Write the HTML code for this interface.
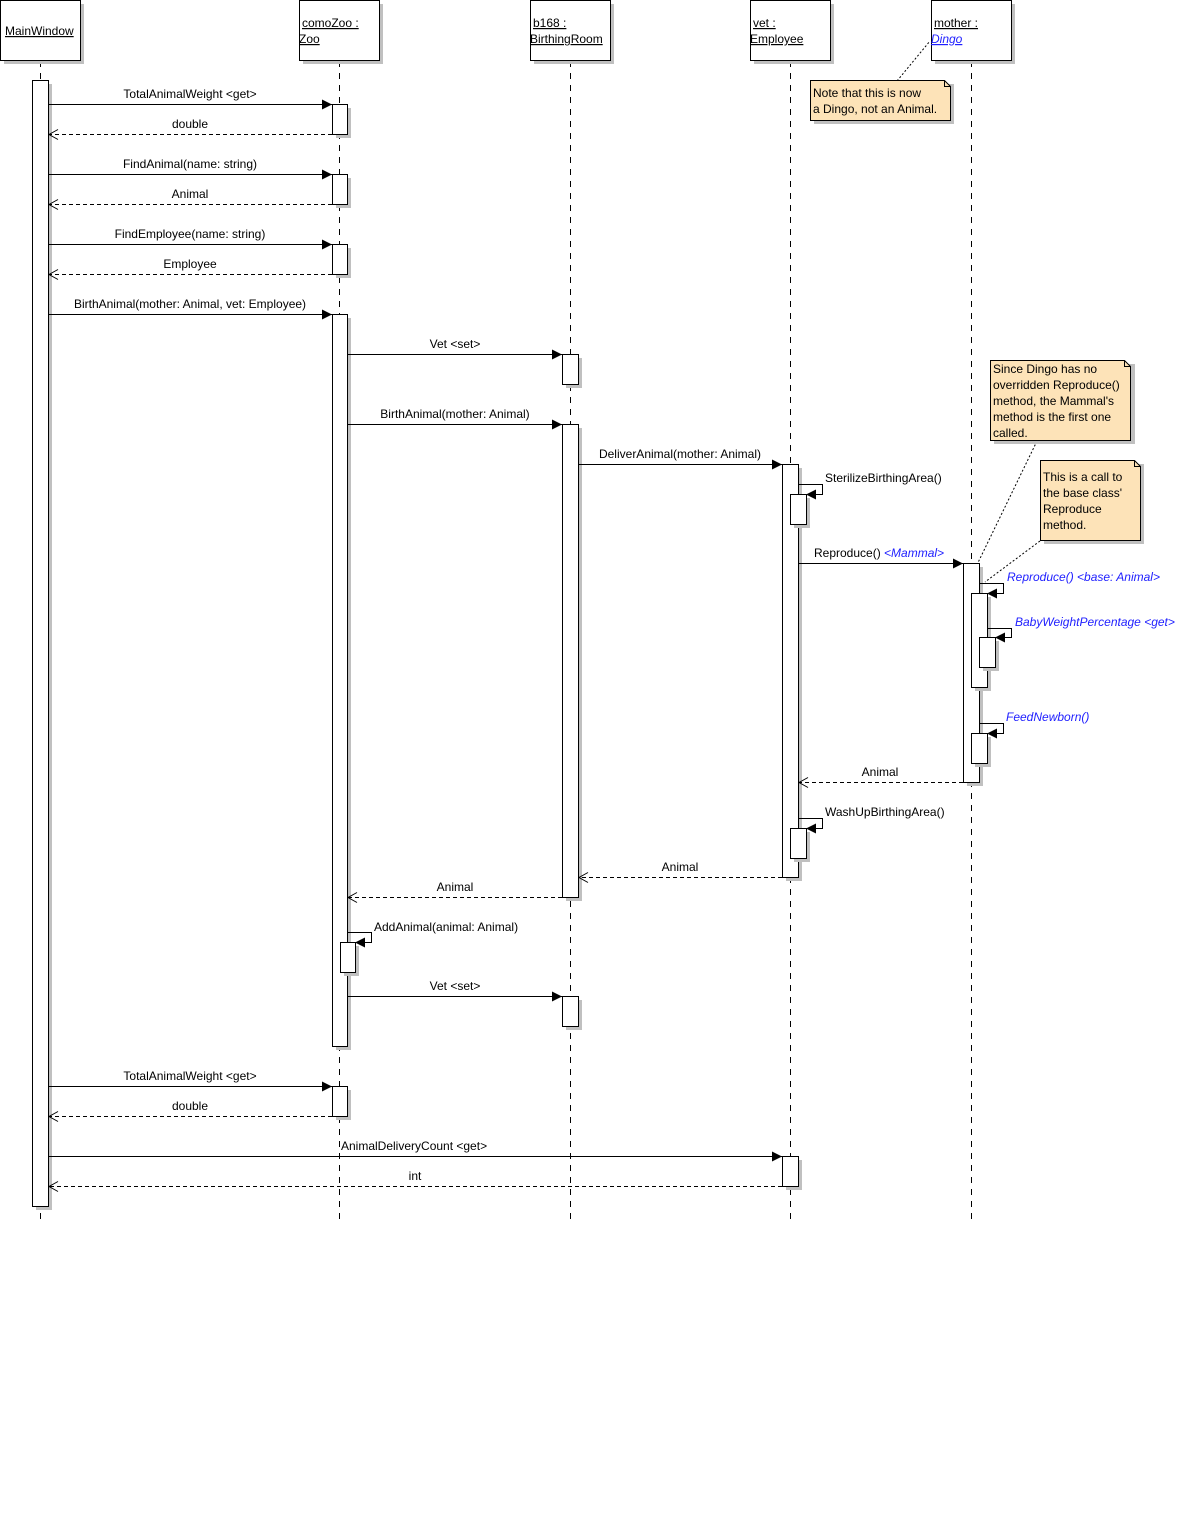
<!DOCTYPE html>
<html><head><meta charset="utf-8"><style>
html,body{margin:0;padding:0;background:#fff;}
svg{display:block;font-family:"Liberation Sans",sans-serif;font-size:12px;}
.sh{fill:#c0c0c0;stroke:none}
.b{fill:#fff;stroke:#000;stroke-width:1}
.n{fill:#fde3b8;stroke:#000;stroke-width:1}
.ll{stroke:#000;stroke-dasharray:6,6;fill:none}
.m{stroke:#000;fill:none}
.r{stroke:#000;fill:none;stroke-dasharray:4,3}
.d{stroke:#000;fill:none;stroke-dasharray:2,2}
.bl{fill:#2020ff;font-style:italic}
</style></head><body>
<svg width="1183" height="1524" viewBox="0 0 1183 1524" xmlns="http://www.w3.org/2000/svg">
<rect width="1183" height="1524" fill="#fff"/>
<!-- lifelines -->
<line class="ll" x1="40.5" y1="61" x2="40.5" y2="1225"/>
<line class="ll" x1="339.5" y1="61" x2="339.5" y2="1225"/>
<line class="ll" x1="570.5" y1="61" x2="570.5" y2="1225"/>
<line class="ll" x1="790.5" y1="61" x2="790.5" y2="1225"/>
<line class="ll" x1="971.5" y1="61" x2="971.5" y2="1225"/>
<!-- heads -->
<g>
<rect class="sh" x="4" y="4" width="80" height="60"/><rect class="b" x="0.5" y="0.5" width="80" height="60"/>
<text x="5" y="35" text-decoration="underline">MainWindow</text>
<rect class="sh" x="303" y="4" width="80" height="60"/><rect class="b" x="299.5" y="0.5" width="80" height="60"/>
<text x="302" y="27" text-decoration="underline">comoZoo :</text><text x="299" y="43" text-decoration="underline">Zoo</text>
<rect class="sh" x="534" y="4" width="80" height="60"/><rect class="b" x="530.5" y="0.5" width="80" height="60"/>
<text x="533" y="27" text-decoration="underline">b168 :</text><text x="530" y="43" text-decoration="underline">BirthingRoom</text>
<rect class="sh" x="754" y="4" width="80" height="60"/><rect class="b" x="750.5" y="0.5" width="80" height="60"/>
<text x="753" y="27" text-decoration="underline">vet :</text><text x="750" y="43" text-decoration="underline">Employee</text>
<rect class="sh" x="935" y="4" width="80" height="60"/><rect class="b" x="931.5" y="0.5" width="80" height="60"/>
<text x="934" y="27" text-decoration="underline">mother :</text><text x="931" y="43" text-decoration="underline" fill="#2020ff" font-style="italic">Dingo</text>
</g>
<!-- notes -->
<line class="d" x1="897" y1="81" x2="930" y2="41"/>
<rect class="sh" x="814" y="84" width="140" height="40"/>
<path class="n" d="M810.5 80.5 H944.5 L950.5 86.5 V120.5 H810.5 Z"/><path class="m" d="M944.5 80.5 V86.5 H950.5"/>
<text x="813" y="97">Note that this is now</text><text x="813" y="113">a Dingo, not an Animal.</text>
<line class="d" x1="1037" y1="441" x2="972" y2="575"/>
<rect class="sh" x="994" y="364" width="141" height="80"/>
<path class="n" d="M990.5 360.5 H1124.5 L1130.5 366.5 V440.5 H990.5 Z"/><path class="m" d="M1124.5 360.5 V366.5 H1130.5"/>
<text x="993" y="373">Since Dingo has no</text><text x="993" y="389">overridden Reproduce()</text><text x="993" y="405">method, the Mammal's</text><text x="993" y="421">method is the first one</text><text x="993" y="437">called.</text>
<line class="d" x1="1040" y1="541" x2="985" y2="582"/>
<rect class="sh" x="1044" y="464" width="100" height="80"/>
<path class="n" d="M1040.5 460.5 H1134.5 L1140.5 466.5 V540.5 H1040.5 Z"/><path class="m" d="M1134.5 460.5 V466.5 H1140.5"/>
<text x="1043" y="481">This is a call to</text><text x="1043" y="497">the base class'</text><text x="1043" y="513">Reproduce</text><text x="1043" y="529">method.</text>
<!-- activations -->
<g>
<rect class="sh" x="36" y="84" width="16" height="1126"/><rect class="b" x="32.5" y="80.5" width="16" height="1126"/>
<rect class="sh" x="336" y="108" width="15" height="30"/><rect class="b" x="332.5" y="104.5" width="15" height="30"/>
<rect class="sh" x="336" y="178" width="15" height="30"/><rect class="b" x="332.5" y="174.5" width="15" height="30"/>
<rect class="sh" x="336" y="248" width="15" height="30"/><rect class="b" x="332.5" y="244.5" width="15" height="30"/>
<rect class="sh" x="336" y="318" width="15" height="732"/><rect class="b" x="332.5" y="314.5" width="15" height="732"/>
<rect class="sh" x="344" y="946" width="15" height="30"/><rect class="b" x="340.5" y="942.5" width="15" height="30"/>
<rect class="sh" x="336" y="1090" width="15" height="30"/><rect class="b" x="332.5" y="1086.5" width="15" height="30"/>
<rect class="sh" x="566" y="358" width="16" height="30"/><rect class="b" x="562.5" y="354.5" width="16" height="30"/>
<rect class="sh" x="566" y="428" width="16" height="473"/><rect class="b" x="562.5" y="424.5" width="16" height="473"/>
<rect class="sh" x="566" y="1000" width="16" height="30"/><rect class="b" x="562.5" y="996.5" width="16" height="30"/>
<rect class="sh" x="786" y="468" width="16" height="413"/><rect class="b" x="782.5" y="464.5" width="16" height="413"/>
<rect class="sh" x="794" y="498" width="16" height="30"/><rect class="b" x="790.5" y="494.5" width="16" height="30"/>
<rect class="sh" x="794" y="832" width="16" height="30"/><rect class="b" x="790.5" y="828.5" width="16" height="30"/>
<rect class="sh" x="786" y="1160" width="16" height="30"/><rect class="b" x="782.5" y="1156.5" width="16" height="30"/>
<rect class="sh" x="967" y="567" width="16" height="219"/><rect class="b" x="963.5" y="563.5" width="16" height="219"/>
<rect class="sh" x="975" y="597" width="16" height="94"/><rect class="b" x="971.5" y="593.5" width="16" height="94"/>
<rect class="sh" x="983" y="641" width="16" height="30"/><rect class="b" x="979.5" y="637.5" width="16" height="30"/>
<rect class="sh" x="975" y="737" width="16" height="30"/><rect class="b" x="971.5" y="733.5" width="16" height="30"/>
</g>
<!-- messages -->
<g>
<line class="m" x1="48" y1="104.5" x2="332" y2="104.5"/><polygon points="322,99.5 332,104.5 322,109.5"/>
<text x="190" y="98" text-anchor="middle">TotalAnimalWeight &lt;get&gt;</text>
<line class="r" x1="332" y1="134.5" x2="49" y2="134.5"/><polyline class="m" points="58,129.5 49,134.5 58,139.5"/>
<text x="190" y="128" text-anchor="middle">double</text>
<line class="m" x1="48" y1="174.5" x2="332" y2="174.5"/><polygon points="322,169.5 332,174.5 322,179.5"/>
<text x="190" y="168" text-anchor="middle">FindAnimal(name: string)</text>
<line class="r" x1="332" y1="204.5" x2="49" y2="204.5"/><polyline class="m" points="58,199.5 49,204.5 58,209.5"/>
<text x="190" y="198" text-anchor="middle">Animal</text>
<line class="m" x1="48" y1="244.5" x2="332" y2="244.5"/><polygon points="322,239.5 332,244.5 322,249.5"/>
<text x="190" y="238" text-anchor="middle">FindEmployee(name: string)</text>
<line class="r" x1="332" y1="274.5" x2="49" y2="274.5"/><polyline class="m" points="58,269.5 49,274.5 58,279.5"/>
<text x="190" y="268" text-anchor="middle">Employee</text>
<line class="m" x1="48" y1="314.5" x2="332" y2="314.5"/><polygon points="322,309.5 332,314.5 322,319.5"/>
<text x="190" y="308" text-anchor="middle">BirthAnimal(mother: Animal, vet: Employee)</text>
<line class="m" x1="347" y1="354.5" x2="562" y2="354.5"/><polygon points="552,349.5 562,354.5 552,359.5"/>
<text x="455" y="348" text-anchor="middle">Vet &lt;set&gt;</text>
<line class="m" x1="347" y1="424.5" x2="562" y2="424.5"/><polygon points="552,419.5 562,424.5 552,429.5"/>
<text x="455" y="418" text-anchor="middle">BirthAnimal(mother: Animal)</text>
<line class="m" x1="578" y1="464.5" x2="782" y2="464.5"/><polygon points="772,459.5 782,464.5 772,469.5"/>
<text x="680" y="458" text-anchor="middle">DeliverAnimal(mother: Animal)</text>
<polyline class="m" points="798,484.5 822.5,484.5 822.5,494.5 806,494.5"/><polygon points="816,489.5 806,494.5 816,499.5"/>
<text x="825" y="482">SterilizeBirthingArea()</text>
<line class="m" x1="798" y1="563.5" x2="963" y2="563.5"/><polygon points="953,558.5 963,563.5 953,568.5"/>
<text x="814" y="557">Reproduce() <tspan class="bl">&lt;Mammal&gt;</tspan></text>
<polyline class="m" points="979,583.5 1003.5,583.5 1003.5,593.5 987,593.5"/><polygon points="997,588.5 987,593.5 997,598.5"/>
<text x="1007" y="581" class="bl">Reproduce() &lt;base: Animal&gt;</text>
<polyline class="m" points="987,628.5 1011.5,628.5 1011.5,637.5 995,637.5"/><polygon points="1005,632.5 995,637.5 1005,642.5"/>
<text x="1015" y="626" class="bl">BabyWeightPercentage &lt;get&gt;</text>
<polyline class="m" points="979,723.5 1003.5,723.5 1003.5,733.5 987,733.5"/><polygon points="997,728.5 987,733.5 997,738.5"/>
<text x="1006" y="721" class="bl">FeedNewborn()</text>
<line class="r" x1="963" y1="782.5" x2="799" y2="782.5"/><polyline class="m" points="808,777.5 799,782.5 808,787.5"/>
<text x="880" y="776" text-anchor="middle">Animal</text>
<polyline class="m" points="798,818.5 822.5,818.5 822.5,828.5 806,828.5"/><polygon points="816,823.5 806,828.5 816,833.5"/>
<text x="825" y="816">WashUpBirthingArea()</text>
<line class="r" x1="782" y1="877.5" x2="579" y2="877.5"/><polyline class="m" points="588,872.5 579,877.5 588,882.5"/>
<text x="680" y="871" text-anchor="middle">Animal</text>
<line class="r" x1="562" y1="897.5" x2="348" y2="897.5"/><polyline class="m" points="357,892.5 348,897.5 357,902.5"/>
<text x="455" y="891" text-anchor="middle">Animal</text>
<polyline class="m" points="347,932.5 371.5,932.5 371.5,942.5 355,942.5"/><polygon points="365,937.5 355,942.5 365,947.5"/>
<text x="374" y="931">AddAnimal(animal: Animal)</text>
<line class="m" x1="347" y1="996.5" x2="562" y2="996.5"/><polygon points="552,991.5 562,996.5 552,1001.5"/>
<text x="455" y="990" text-anchor="middle">Vet &lt;set&gt;</text>
<line class="m" x1="48" y1="1086.5" x2="332" y2="1086.5"/><polygon points="322,1081.5 332,1086.5 322,1091.5"/>
<text x="190" y="1080" text-anchor="middle">TotalAnimalWeight &lt;get&gt;</text>
<line class="r" x1="332" y1="1116.5" x2="49" y2="1116.5"/><polyline class="m" points="58,1111.5 49,1116.5 58,1121.5"/>
<text x="190" y="1110" text-anchor="middle">double</text>
<line class="m" x1="48" y1="1156.5" x2="782" y2="1156.5"/><polygon points="772,1151.5 782,1156.5 772,1161.5"/>
<text x="341" y="1150">AnimalDeliveryCount &lt;get&gt;</text>
<line class="r" x1="782" y1="1186.5" x2="49" y2="1186.5"/><polyline class="m" points="58,1181.5 49,1186.5 58,1191.5"/>
<text x="415" y="1180" text-anchor="middle">int</text>
</g>
</svg>
</body></html>
